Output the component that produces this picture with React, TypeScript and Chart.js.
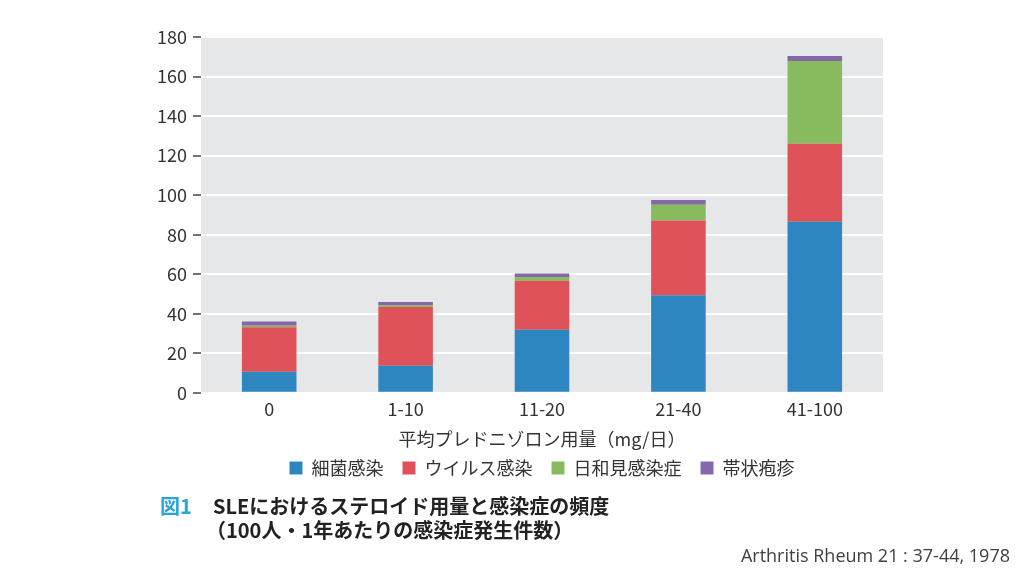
import React, { useEffect, useRef } from "react";
import { Chart, registerables } from "chart.js";

Chart.register(...registerables);

const categories = ["0", "1-10", "11-20", "21-40", "41-100"];
const bacterial = [10.6, 13.7, 31.9, 49.4, 86.5];
const viral = [22.5, 29.7, 24.8, 37.8, 39.5];
const opportunistic = [0.8, 0.8, 1.9, 7.9, 41.9];
const herpesZoster = [2.2, 1.7, 1.8, 2.4, 2.5];
const seriesNames = ["細菌感染", "ウイルス感染", "日和見感染症", "帯状疱疹"];
const seriesColors = ["#2e86c1", "#e0525a", "#88bb5d", "#8568a9"];
const yTicks = { min: 0, max: 180, step: 20 };
const xTitle = "平均プレドニゾロン用量（mg/日）";
const figLabel = "図1";
const captionLine1 = "SLEにおけるステロイド用量と感染症の頻度";
const captionLine2 = "（100人・1年あたりの感染症発生件数）";
const citation = "Arthritis Rheum 21 : 37-44, 1978";

const FONT = "'Noto Sans CJK JP', 'Noto Sans', sans-serif";

const bgPlugin = {
  id: "plotBg",
  beforeDraw(chart: any) {
    const { ctx, chartArea } = chart;
    if (!chartArea) return;
    ctx.save();
    ctx.fillStyle = "#e6e7e8";
    ctx.fillRect(chartArea.left, chartArea.top, chartArea.right - chartArea.left, chartArea.bottom - chartArea.top);
    ctx.restore();
  },
};

// centre the legend over the plot area rather than the whole canvas
const legendCenterPlugin = {
  id: "legendCenter",
  afterLayout(chart: any) {
    const lg = chart.legend;
    const ca = chart.chartArea;
    if (!lg || !ca) return;
    lg.left = ca.left;
    lg.right = ca.right;
    lg.width = ca.right - ca.left;
  },
};

export default function App() {
  const canvasRef = useRef<HTMLCanvasElement>(null);

  useEffect(() => {
    if (!canvasRef.current) return;
    const data = [bacterial, viral, opportunistic, herpesZoster];
    const chart = new Chart(canvasRef.current, {
      type: "bar",
      data: {
        labels: categories,
        datasets: data.map((d, i) => ({
          label: seriesNames[i],
          data: d,
          backgroundColor: seriesColors[i],
          borderWidth: 0,
          barPercentage: 0.4,
          categoryPercentage: 1,
        })),
      },
      options: {
        responsive: false,
        maintainAspectRatio: false,
        animation: false,
        layout: { padding: { left: 0, right: 141, top: 37, bottom: 88 } },
        plugins: {
          tooltip: { enabled: false },
          legend: {
            position: "bottom",
            labels: {
              boxWidth: 13,
              boxHeight: 13,
              padding: 19,
              color: "#333",
              font: { family: FONT, size: 18 },
            },
          },
        },
        scales: {
          x: {
            stacked: true,
            grid: { display: false, drawTicks: false },
            border: { display: false },
            ticks: { color: "#333", padding: 6, font: { family: FONT, size: 18 } },
            title: {
              display: true,
              text: xTitle,
              color: "#333",
              padding: { top: 2, bottom: -10 },
              font: { family: FONT, size: 18 },
            },
          },
          y: {
            stacked: true,
            min: yTicks.min,
            max: yTicks.max,
            afterFit: (scale: any) => {
              scale.width = 201;
            },
            grid: {
              color: "#ffffff",
              lineWidth: 2,
              tickColor: "#444",
              tickLength: 8,
              tickWidth: 1.5,
            },
            border: { display: false },
            ticks: {
              stepSize: yTicks.step,
              color: "#333",
              padding: 6,
              font: { family: FONT, size: 18 },
            },
          },
        },
      },
      plugins: [bgPlugin, legendCenterPlugin],
    });
    return () => chart.destroy();
  }, []);

  return (
    <div style={{ position: "fixed", left: 0, top: 0, width: 1024, height: 575, background: "#fff", overflow: "hidden" }}>
      <canvas ref={canvasRef} width={1024} height={575} style={{ width: 1024, height: 575, display: "block" }} />
      <div
        style={{
          position: "absolute",
          left: 160,
          top: 494,
          fontFamily: FONT,
          fontWeight: "bold",
          fontSize: 20,
          lineHeight: "24px",
          color: "#222",
          whiteSpace: "nowrap",
        }}
      >
        <div>
          <span style={{ color: "#29a3dc", display: "inline-block", width: 53 }}>{figLabel}</span>
          {captionLine1}
        </div>
        <div style={{ paddingLeft: 46 }}>{captionLine2}</div>
      </div>
      <div
        style={{
          position: "absolute",
          right: 14,
          top: 546,
          fontFamily: "'Open Sans', sans-serif",
          fontSize: 18,
          lineHeight: "18px",
          color: "#404040",
          whiteSpace: "nowrap",
        }}
      >
        {citation}
      </div>
    </div>
  );
}
